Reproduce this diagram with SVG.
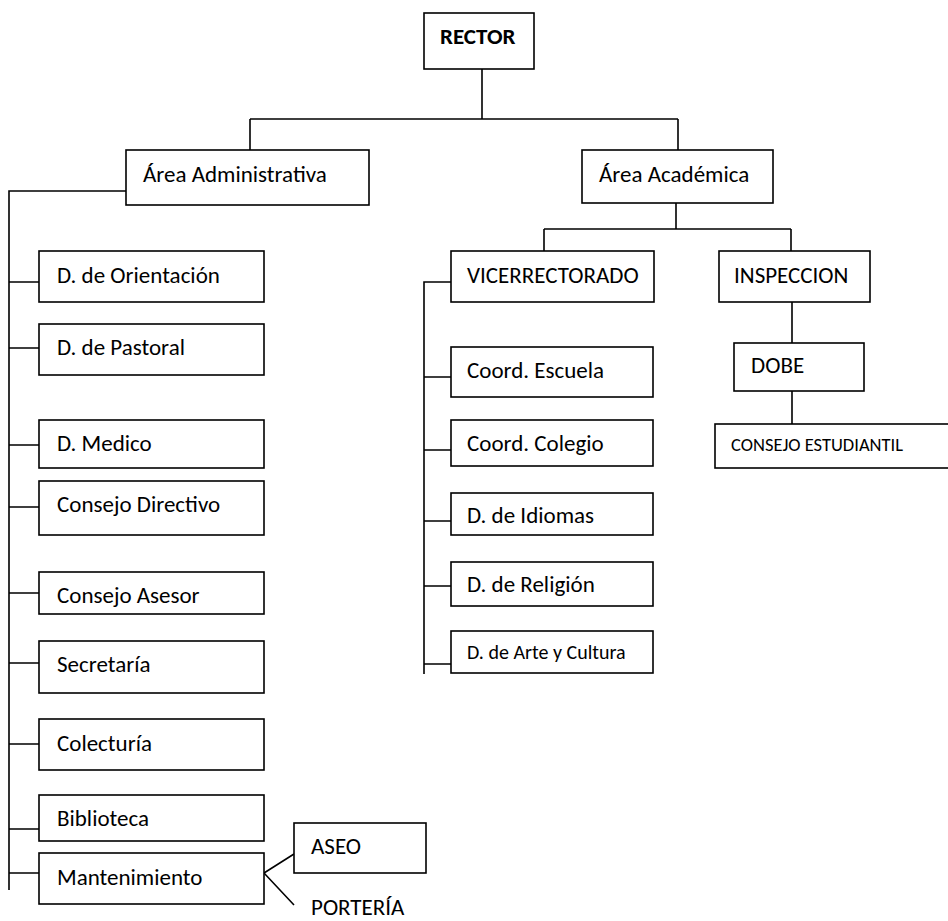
<svg xmlns="http://www.w3.org/2000/svg" width="948" height="921" viewBox="0 0 948 921">
<style>
.b{fill:#fff;stroke:#000;stroke-width:1.6}
.t{font-family:Carlito,Lato,"Liberation Sans",sans-serif;font-size:23px;fill:#000}
.s{font-size:20px}
.xs{font-size:18.5px}
.c{fill:none;stroke:#000;stroke-width:1.6}
</style>
<rect width="948" height="921" fill="#fff"/>
<g id="connectors" class="c">
<path d="M482 69V119M250 119H678M250 119V150M678 119V150"/>
<path d="M126 191H9V890"/>
<path d="M9 282H39M9 348H39M9 445H39M9 507H39M9 593H39M9 663H39M9 744H39M9 829H39M9 873H39"/>
<path d="M676 203V229M544 229H791M544 229V251M791 229V251"/>
<path d="M451 282H424V674"/>
<path d="M424 377H451M424 450H451M424 521H451M424 586H451M424 664H451"/>
<path d="M792 302V343M792 391V424"/>
<path d="M264 873L294 854M264 873L294 905"/>
</g>
<g id="rector"><rect class="b" x="424" y="13" width="110" height="56"/><text class="t" x="440" y="44" font-weight="bold">RECTOR</text></g>
<g id="area-admin"><rect class="b" x="126" y="150" width="243" height="55"/><text class="t" x="143" y="182">Área Administrativa</text></g>
<g id="area-acad"><rect class="b" x="582" y="150" width="191" height="53"/><text class="t" x="599" y="182">Área Académica</text></g>
<g id="vicerrectorado"><rect class="b" x="451" y="251" width="203" height="51"/><text class="t" x="467" y="283">VICERRECTORADO</text></g>
<g id="inspeccion"><rect class="b" x="719" y="251" width="151" height="51"/><text class="t" x="734" y="283">INSPECCION</text></g>
<g id="dobe"><rect class="b" x="734" y="343" width="130" height="48"/><text class="t" x="751" y="373">DOBE</text></g>
<g id="consejo-estudiantil"><rect class="b" x="715" y="424" width="240" height="44"/><text class="t xs" x="731" y="451">CONSEJO ESTUDIANTIL</text></g>
<g id="orientacion"><rect class="b" x="39" y="251" width="225" height="51"/><text class="t" x="57" y="283">D. de Orientación</text></g>
<g id="pastoral"><rect class="b" x="39" y="324" width="225" height="51"/><text class="t" x="57" y="355">D. de Pastoral</text></g>
<g id="medico"><rect class="b" x="39" y="420" width="225" height="48"/><text class="t" x="57" y="451">D. Medico</text></g>
<g id="consejo-directivo"><rect class="b" x="39" y="481" width="225" height="54"/><text class="t" x="57" y="512">Consejo Directivo</text></g>
<g id="consejo-asesor"><rect class="b" x="39" y="572" width="225" height="42"/><text class="t" x="57" y="603">Consejo Asesor</text></g>
<g id="secretaria"><rect class="b" x="39" y="641" width="225" height="52"/><text class="t" x="57" y="672">Secretaría</text></g>
<g id="colecturia"><rect class="b" x="39" y="719" width="225" height="51"/><text class="t" x="57" y="751">Colecturía</text></g>
<g id="biblioteca"><rect class="b" x="39" y="795" width="225" height="46"/><text class="t" x="57" y="826">Biblioteca</text></g>
<g id="mantenimiento"><rect class="b" x="39" y="853" width="225" height="51"/><text class="t" x="57" y="885">Mantenimiento</text></g>
<g id="aseo"><rect class="b" x="294" y="823" width="132" height="50"/><text class="t" x="311" y="854">ASEO</text></g>
<g id="porteria"><text class="t" x="311" y="915">PORTERÍA</text></g>
<g id="coord-escuela"><rect class="b" x="451" y="347" width="202" height="50"/><text class="t" x="467" y="378">Coord. Escuela</text></g>
<g id="coord-colegio"><rect class="b" x="451" y="420" width="202" height="46"/><text class="t" x="467" y="451">Coord. Colegio</text></g>
<g id="idiomas"><rect class="b" x="451" y="493" width="202" height="42"/><text class="t" x="467" y="523">D. de Idiomas</text></g>
<g id="religion"><rect class="b" x="451" y="562" width="202" height="44"/><text class="t" x="467" y="592">D. de Religión</text></g>
<g id="arte"><rect class="b" x="451" y="631" width="202" height="42"/><text class="t s" x="467" y="659">D. de Arte y Cultura</text></g>
</svg>
